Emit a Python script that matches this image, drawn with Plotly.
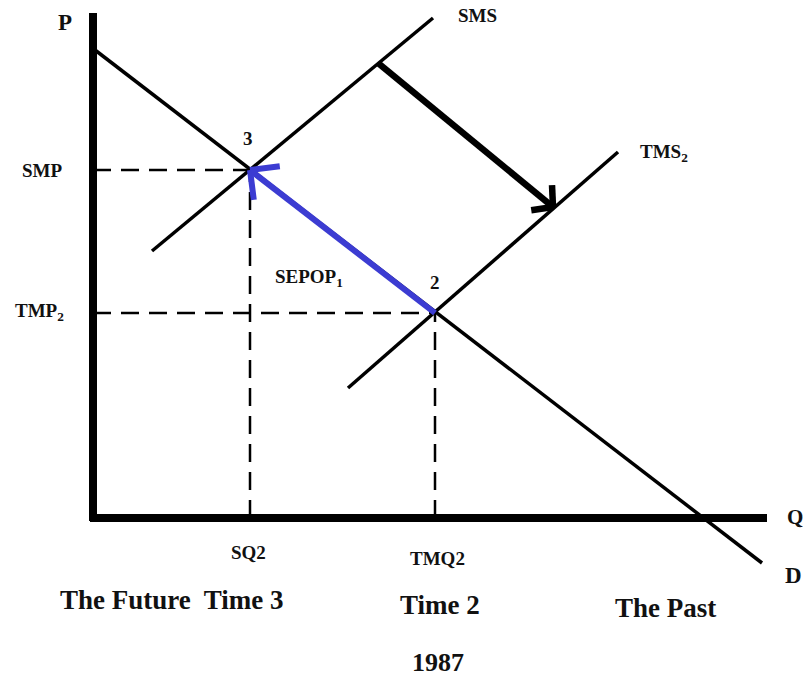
import math
import plotly.graph_objects as go

# Diagram data (Q, P) with origin at the axes corner
axis_q_end = 674
axis_p_end = 505

demand_q = [2, 669]
demand_p = [468, -45]

sms_q = [59, 340]
sms_p = [267, 500]

tms_q = [255, 525]
tms_p = [130, 366]

eq3 = (157, 348)  # point 3 : SQ2, SMP
eq2 = (342, 205)  # point 2 : TMQ2, TMP2

shift_start = (285, 455)
shift_end = (460, 311)

price_labels = ["SMP", "TMP<sub>2</sub>"]
qty_labels = ["SQ2", "TMQ2"]
period_labels = ["The Future  Time 3", "Time 2", "The Past"]
period_q = [79, 347, 572]
year_label = "1987"

FONT = "Liberation Serif, Times New Roman, serif"
BLUE = "#3c3cd2"

fig = go.Figure()


def add_line(xs, ys, width=3.5, color="black", dash=None):
    fig.add_trace(go.Scatter(x=xs, y=ys, mode="lines", hoverinfo="skip",
                             line=dict(color=color, width=width, dash=dash)))


def add_arrow(start, end, color, width, arm_len, spread_deg):
    add_line([start[0], end[0]], [start[1], end[1]], width=width, color=color)
    ang = math.atan2(start[1] - end[1], start[0] - end[0])
    for s in (-1, 1):
        a = ang + s * math.radians(spread_deg)
        add_line([end[0], end[0] + arm_len * math.cos(a)],
                 [end[1], end[1] + arm_len * math.sin(a)],
                 width=width, color=color)


# axes
add_line([0, 0], [-3, axis_p_end], width=8)
add_line([-3, axis_q_end], [0, 0], width=8)

# dashed guides
for q, p in (eq3, eq2):
    add_line([0, q], [p, p], width=2.5, dash="18px,10px")
    add_line([q, q], [0, p], width=2.5, dash="18px,10px")

# curves
add_line(demand_q, demand_p)
add_line(sms_q, sms_p)
add_line(tms_q, tms_p)

# arrows
add_arrow(shift_start, shift_end, "black", 6.5, 22, 48)
add_arrow(eq2, eq3, BLUE, 6, 30, 45)

ann = []


def txt(x, y, s, size, **kw):
    ann.append(dict(x=x, y=y, text="<b>%s</b>" % s, showarrow=False,
                    font=dict(family=FONT, size=size, color="#111"), **kw))


txt(-28, 496, "P", 23)
txt(692, 1, "Q", 21, xanchor="left")
txt(690, -57, "D", 23, xanchor="left")
txt(384, 503, "SMS", 19)
txt(545, 365, "TMS<sub>2</sub>", 19, xanchor="left")
txt(155, 380, "3", 19)
txt(342, 236, "2", 19)
txt(180, 240, "SEPOP<sub>1</sub>", 19, xanchor="left")
txt(-51, eq3[1], price_labels[0], 19)
txt(-54, eq2[1] + 1, price_labels[1], 19)
txt(155, -34, qty_labels[0], 19)
txt(344, -40, qty_labels[1], 19)
period_p = [-82, -87, -90]
for q, p, s in zip(period_q, period_p, period_labels):
    txt(q, p, s, 27)
txt(345, -144, year_label, 26)

fig.update_layout(
    width=804, height=678,
    margin=dict(l=0, r=0, t=0, b=0),
    paper_bgcolor="white", plot_bgcolor="white",
    showlegend=False,
    annotations=ann,
    xaxis=dict(range=[-93, 711], visible=False, fixedrange=True),
    yaxis=dict(range=[-160, 518], visible=False, fixedrange=True),
)

fig.write_html("out.html", config={"displayModeBar": False},
               post_script="document.body.style.margin='0';")
